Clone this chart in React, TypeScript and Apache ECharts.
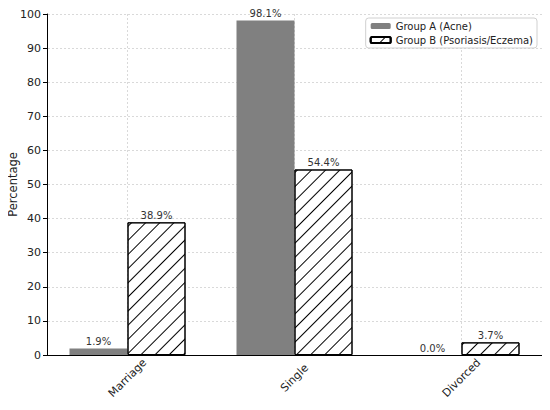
import React, { useEffect, useRef } from "react";
import * as echarts from "echarts";

const categories = ["Marriage", "Single", "Divorced"];
const groupA = [1.9, 98.1, 0.0];
const groupB = [38.9, 54.4, 3.7];
const seriesNames = ["Group A (Acne)", "Group B (Psoriasis/Eczema)"];

const FONT = "DejaVu Sans";

const App = () => {
  const chartRef = useRef<HTMLDivElement>(null);

  useEffect(() => {
    if (!chartRef.current) return;
    const chart = echarts.init(chartRef.current, null, { renderer: "svg" });

    const label = {
      show: true,
      position: "top",
      distance: 2,
      fontFamily: FONT,
      fontSize: 10,
      color: "#333",
      formatter: (p: any) => p.value.toFixed(1) + "%",
    };

    const gridLine = { color: "#cfcfcf", type: [2, 2], width: 0.8 };

    const options = {
      animation: false,
      textStyle: { fontFamily: FONT },
      grid: { left: 44, right: 5, top: 14, bottom: 55, outerBoundsMode: "none", containLabel: false },
      legend: {
        orient: "vertical",
        right: 13,
        top: 18,
        itemWidth: 20,
        itemHeight: 6,
        itemGap: 4,
        padding: [3, 4, 3, 4],
        borderColor: "#d0d0d0",
        borderWidth: 1,
        borderRadius: 3,
        backgroundColor: "#fff",
        textStyle: { fontFamily: FONT, fontSize: 10, color: "#222" },
        data: seriesNames,
      },
      xAxis: [
        {
          type: "category",
          data: categories,
          axisLine: { lineStyle: { color: "#000", width: 1 } },
          axisTick: { show: false },
          axisLabel: {
            rotate: 45,
            align: "center",
            verticalAlign: "middle",
            fontFamily: FONT,
            fontSize: 11,
            color: "#222",
            margin: 23,
          },
          splitLine: { show: false },
        },
        {
          type: "category",
          data: ["", "", "", "", "", ""],
          position: "bottom",
          axisLine: { show: false },
          axisTick: { show: false },
          axisLabel: { show: false },
          splitLine: {
            show: true,
            interval: (i: number) => i % 2 === 1,
            lineStyle: gridLine,
          },
        },
      ],
      yAxis: {
        type: "value",
        min: 0,
        max: 100,
        interval: 10,
        offset: -3,
        name: "Percentage",
        nameLocation: "middle",
        nameGap: 28,
        nameMoveOverlap: false,
        nameTextStyle: { fontFamily: FONT, fontSize: 11.5, color: "#222" },
        axisLine: { show: true, lineStyle: { color: "#000", width: 1 } },
        axisTick: { show: true, length: 4, lineStyle: { color: "#000" } },
        axisLabel: { fontFamily: FONT, fontSize: 11, color: "#222", margin: 6 },
        splitLine: { show: true, lineStyle: gridLine },
      },
      series: [
        {
          name: seriesNames[0],
          type: "bar",
          data: groupA,
          barWidth: 58,
          barGap: "0%",
          clip: false,
          itemStyle: { color: "#808080" },
          label,
        },
        {
          name: seriesNames[1],
          type: "bar",
          data: groupB,
          barWidth: 58,
          barGap: "0%",
          clip: false,
          itemStyle: {
            color: "#ffffff",
            borderColor: "#000",
            borderWidth: 1,
            decal: {
              color: "#000",
              dashArrayX: [1, 0],
              dashArrayY: [1, 8.4],
              rotation: -Math.PI / 4,
              symbol: "rect",
            },
          },
          label,
        },
      ],
    };

    chart.setOption(options);
    const handleResize = () => chart.resize();
    window.addEventListener("resize", handleResize);
    return () => {
      window.removeEventListener("resize", handleResize);
      chart.dispose();
    };
  }, []);

  return <div ref={chartRef} style={{ width: 550, height: 410, margin: -8 }} />;
};

export default App;
